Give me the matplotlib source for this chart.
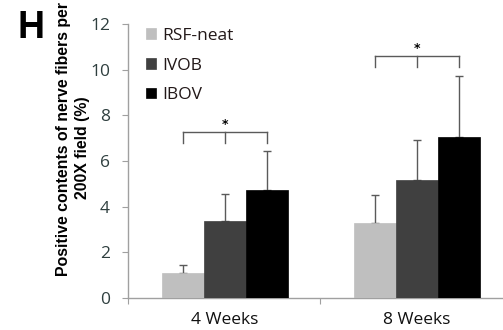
import matplotlib
matplotlib.use("Agg")
import matplotlib.pyplot as plt
import numpy as np

categories = ["4 Weeks", "8 Weeks"]
series = ["RSF-neat", "IVOB", "IBOV"]
rsf_neat = [1.10, 3.29]
ivob = [3.36, 5.15]
ibov = [4.72, 7.07]
rsf_err = [0.34, 1.21]
ivob_err = [1.21, 1.75]
ibov_err = [1.73, 2.67]
yticks = [0, 2, 4, 6, 8, 10, 12]

values = [rsf_neat, ivob, ibov]
errors = [rsf_err, ivob_err, ibov_err]
colors = ["#bfbfbf", "#404040", "#000000"]

W, H = 503, 330
fig = plt.figure(figsize=(W / 100, H / 100), dpi=100)
ax = fig.add_axes([128 / W, 32 / H, (512 - 128) / W, (298 - 24) / H])

width = 0.219
centers = np.arange(len(categories)) + 0.505
handles = []
for i, (vals, errs, c) in enumerate(zip(values, errors, colors)):
    x = centers + (i - 1) * width
    b = ax.bar(x, vals, width, color=c, edgecolor=c, linewidth=0.5, label=series[i], zorder=3)
    handles.append(b)
    ax.errorbar(x, vals, yerr=[np.zeros(len(vals)), errs], fmt="none", ecolor="#5a5a5a",
                elinewidth=1.0, capsize=3, capthick=1.0, zorder=2)

# significance brackets
def bracket(ci, ytop, ybot):
    xs = centers[ci] + np.array([-1, 0, 1]) * width
    ax.plot([xs[0], xs[2]], [ytop, ytop], color="#5a5a5a", lw=1.0, zorder=3)
    for xx in xs:
        ax.plot([xx, xx], [ytop, ybot], color="#5a5a5a", lw=1.0, zorder=3)
    ax.text(xs[1], ytop + 0.05, "*", ha="center", va="bottom", fontsize=9,
            fontweight="bold", color="black", family="DejaVu Sans")

bracket(0, 7.26, 6.77)
bracket(1, 10.61, 10.10)

ax.set_xlim(0, 2)
ax.set_ylim(0, 12)
ax.set_yticks(yticks)
ax.set_yticklabels([str(t) for t in yticks], fontsize=12.5, color="#2f3f3f", family="Open Sans")
ax.set_xticks([0, 1, 2])
ax.set_xticklabels([])
ax.set_xticks(centers, minor=True)
ax.set_xticklabels(categories, minor=True, fontsize=12.5, color="#111111", family="Open Sans")
ax.tick_params(axis="x", which="minor", length=0, pad=10)
ax.tick_params(axis="x", which="major", length=4, color="#a0a0a0", direction="out")
ax.tick_params(axis="y", length=4, color="#a0a0a0", direction="out", pad=9)
for s in ["top", "right"]:
    ax.spines[s].set_visible(False)
for s in ["left", "bottom"]:
    ax.spines[s].set_color("#a0a0a0")
    ax.spines[s].set_linewidth(1.0)

leg = ax.legend(handles=handles, labels=series, loc="upper left",
                bbox_to_anchor=(146 / W, 1 - 28 / H), bbox_transform=fig.transFigure,
                frameon=False, handlelength=0.58, handleheight=0.58,
                handletextpad=0.35, labelspacing=0.78, borderpad=0, borderaxespad=0,
                prop={"family": "Open Sans", "size": 12.5})
for t in leg.get_texts():
    t.set_color("#221818")

fig.text(64 / W, 1 - 139 / H, "Positive contents of nerve fibers per",
         rotation=90, ha="center", va="center", fontsize=11.4, fontweight="bold",
         family="Liberation Sans")
fig.text(83 / W, 1 - 148 / H, "200X field (%)",
         rotation=90, ha="center", va="center", fontsize=11.4, fontweight="bold",
         family="Liberation Sans")
fig.text(17 / W, 1 - 28 / H, "H", ha="left", va="center", fontsize=27,
         fontweight="bold", family="Liberation Sans")

fig.savefig("out.png", dpi=100)
